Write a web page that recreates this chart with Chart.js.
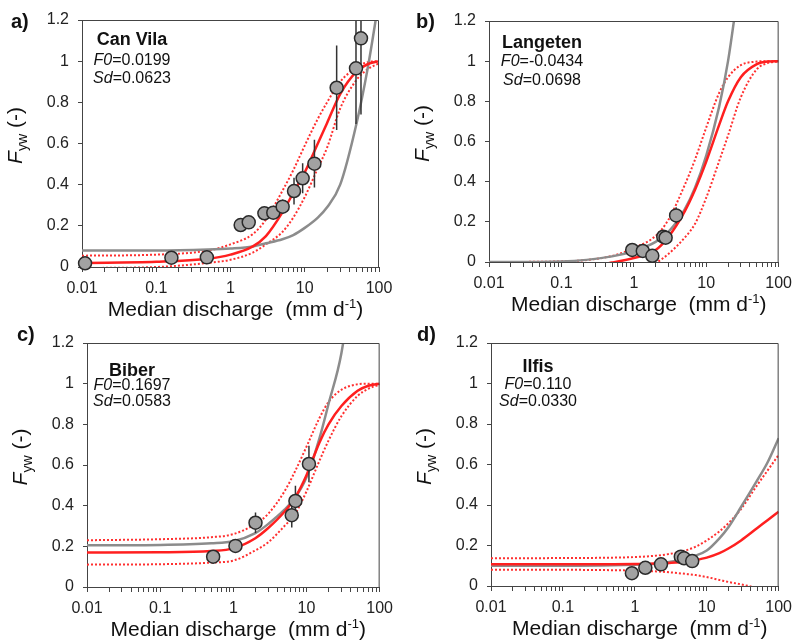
<!DOCTYPE html>
<html>
<head>
<meta charset="utf-8">
<script src="https://cdn.jsdelivr.net/npm/chart.js@4.4.0/dist/chart.umd.min.js"></script>
<style>
body{margin:0;background:#fff;}
canvas{position:absolute;}
</style>
</head>
<body>
<canvas id="pa" width="400" height="320" style="left:0;top:0"></canvas>
<canvas id="pb" width="399" height="320" style="left:400px;top:0"></canvas>
<canvas id="pc" width="400" height="321" style="left:0;top:320px"></canvas>
<canvas id="pd" width="399" height="321" style="left:400px;top:320px"></canvas>
<script>
const qGrid = [0.01, 0.1, 0.5, 1, 2, 3, 5, 7, 10, 15, 20, 30, 50, 70, 100];
// ticks along the log axis (labels only on decades)
const xTicks = [];
for (let e = -2; e <= 2; e++) {
  for (let s = 1; s <= 9; s++) {
    const v = parseFloat((s * Math.pow(10, e)).toPrecision(3));
    if (v <= 100) xTicks.push(v);
  }
}

// a) Can Vila
const canvilaQ   = [0.011, 0.16, 0.48, 1.37, 1.76, 2.86, 3.77, 5.04, 7.17, 9.37, 13.5, 26.9, 49, 57.2];
const canvilaF   = [0.018, 0.045, 0.047, 0.204, 0.217, 0.261, 0.264, 0.293, 0.369, 0.431, 0.502, 0.871, 0.965, 1.111];
const canvilaErr = [0, 0, 0, 0, 0, 0.03, 0.03, 0.035, 0.065, 0.073, 0.116, 0.205, 0.27, 0.37];
const canvilaFit  = [0.02, 0.025, 0.04, 0.06, 0.10, 0.15, 0.265, 0.36, 0.46, 0.60, 0.70, 0.84, 0.95, 0.985, 1.0];
const canvilaUp   = [0.055, 0.06, 0.08, 0.11, 0.16, 0.23, 0.37, 0.47, 0.59, 0.72, 0.80, 0.90, 0.97, 0.995, 1.0];
const canvilaLo   = [-0.005, 0.0, 0.02, 0.035, 0.07, 0.11, 0.17, 0.24, 0.34, 0.48, 0.58, 0.77, 0.91, 0.96, 0.99];
const canvilaGray = [0.08, 0.08, 0.085, 0.09, 0.10, 0.115, 0.135, 0.155, 0.19, 0.24, 0.29, 0.40, 0.70, 0.96, 1.3];

// b) Langeten
const langetenQ   = [0.95, 1.33, 1.80, 2.55, 2.75, 3.84];
const langetenF   = [0.06, 0.055, 0.031, 0.126, 0.121, 0.232];
const langetenErr = [0, 0, 0, 0.01, 0.01, 0.04];
const langetenFit  = [-0.043, -0.04, -0.003, 0.02, 0.06, 0.125, 0.25, 0.36, 0.50, 0.68, 0.80, 0.92, 0.985, 0.998, 1.0];
const langetenUp   = [0.0, 0.003, 0.03, 0.07, 0.13, 0.21, 0.38, 0.51, 0.67, 0.84, 0.92, 0.98, 0.998, 1.0, 1.0];
const langetenLo   = [-0.09, -0.09, -0.07, -0.04, -0.005, 0.04, 0.12, 0.19, 0.32, 0.50, 0.63, 0.82, 0.96, 0.99, 1.0];
const langetenGray = [0.0, 0.003, 0.028, 0.055, 0.10, 0.15, 0.26, 0.37, 0.53, 0.77, 1.0, 1.45];

// c) Biber
const biberQ   = [0.53, 1.07, 2.01, 6.29, 7.06, 10.8];
const biberF   = [0.149, 0.202, 0.316, 0.353, 0.423, 0.605];
const biberErr = [0, 0, 0.05, 0.06, 0.075, 0.09];
const biberFit  = [0.17, 0.171, 0.177, 0.19, 0.24, 0.29, 0.37, 0.44, 0.55, 0.71, 0.80, 0.89, 0.965, 0.99, 1.0];
const biberUp   = [0.23, 0.235, 0.245, 0.26, 0.31, 0.36, 0.47, 0.57, 0.69, 0.83, 0.91, 0.97, 0.997, 1.0, 1.0];
const biberLo   = [0.11, 0.112, 0.12, 0.13, 0.18, 0.22, 0.30, 0.36, 0.47, 0.62, 0.72, 0.84, 0.94, 0.975, 0.995];
const biberGray = [0.205, 0.207, 0.215, 0.225, 0.265, 0.31, 0.38, 0.44, 0.54, 0.73, 0.90, 1.15, 1.7];

// d) Ilfis
const ilfisQ   = [0.91, 1.40, 2.31, 4.36, 4.84, 6.28];
const ilfisF   = [0.063, 0.09, 0.107, 0.145, 0.137, 0.123];
const ilfisErr = [0, 0, 0.01, 0.01, 0.01, 0.03];
const ilfisFit  = [0.107, 0.107, 0.108, 0.109, 0.111, 0.114, 0.12, 0.128, 0.14, 0.162, 0.185, 0.225, 0.285, 0.325, 0.367];
const ilfisUp   = [0.137, 0.138, 0.14, 0.143, 0.15, 0.158, 0.175, 0.194, 0.225, 0.27, 0.31, 0.38, 0.497, 0.57, 0.647];
const ilfisLo   = [0.08, 0.08, 0.078, 0.076, 0.072, 0.068, 0.06, 0.054, 0.044, 0.03, 0.02, 0.008, -0.012, -0.035, -0.07];
const ilfisGray = [0.10, 0.10, 0.102, 0.105, 0.11, 0.118, 0.135, 0.15, 0.175, 0.235, 0.29, 0.39, 0.52, 0.61, 0.73];

const FONT = '"Liberation Sans", Arial, sans-serif';

const panels = [
  {id: 'pa', letter: 'a)', site: 'Can Vila', f0: '0.0199', sd: '0.0623',
   q: canvilaQ, f: canvilaF, err: canvilaErr, fit: canvilaFit, up: canvilaUp, lo: canvilaLo, gray: canvilaGray,
   box: {l: 82, r: 379, t: 20, b: 267}, letterPos: [11, 22], txt: {x: 132, y: [40, 61, 79]}},
  {id: 'pb', letter: 'b)', site: 'Langeten', f0: '-0.0434', sd: '0.0698',
   q: langetenQ, f: langetenF, err: langetenErr, fit: langetenFit, up: langetenUp, lo: langetenLo, gray: langetenGray,
   box: {l: 89, r: 381, t: 21, b: 262}, letterPos: [16, 22], txt: {x: 142, y: [43, 62, 81]}},
  {id: 'pc', letter: 'c)', site: 'Biber', f0: '0.1697', sd: '0.0583',
   q: biberQ, f: biberF, err: biberErr, fit: biberFit, up: biberUp, lo: biberLo, gray: biberGray,
   box: {l: 87, r: 380, t: 23, b: 267}, letterPos: [17, 15], txt: {x: 132, y: [51, 66, 82]}},
  {id: 'pd', letter: 'd)', site: 'Ilfis', f0: '0.110', sd: '0.0330',
   q: ilfisQ, f: ilfisF, err: ilfisErr, fit: ilfisFit, up: ilfisUp, lo: ilfisLo, gray: ilfisGray,
   box: {l: 91, r: 385, t: 23, b: 266}, letterPos: [17, 15], txt: {x: 138, y: [47, 65, 82]}}
];

// draws a run of [text, font, dy] pieces centred on x
function drawRuns(ctx, runs, x, y) {
  ctx.textAlign = 'left';
  let w = 0;
  runs.forEach(r => { ctx.font = r[1]; w += ctx.measureText(r[0]).width; });
  let cx = x - w / 2;
  runs.forEach(r => {
    ctx.font = r[1];
    ctx.fillText(r[0], cx, y + (r[2] || 0));
    cx += ctx.measureText(r[0]).width;
  });
}

const decor = {
  id: 'decor',
  afterDraw(chart) {
    const p = chart.config.options.plugins.decor.panel;
    const ctx = chart.ctx;
    const a = chart.chartArea;
    ctx.save();
    // frame top + right
    ctx.strokeStyle = '#444';
    ctx.lineWidth = 1;
    ctx.beginPath();
    ctx.moveTo(a.left, a.top + 0.5);
    ctx.lineTo(a.right - 0.5, a.top + 0.5);
    ctx.lineTo(a.right - 0.5, a.bottom);
    ctx.stroke();

    ctx.fillStyle = '#111';
    ctx.textAlign = 'left';
    ctx.textBaseline = 'middle';
    ctx.font = 'bold 20px ' + FONT;
    ctx.fillText(p.letter, p.letterPos[0], p.letterPos[1]);

    // site name and fit parameters
    drawRuns(ctx, [[p.site, 'bold 18px ' + FONT]], p.txt.x, p.txt.y[0]);
    drawRuns(ctx, [['F0', 'italic 16px ' + FONT], ['=' + p.f0, '16px ' + FONT]], p.txt.x, p.txt.y[1]);
    drawRuns(ctx, [['Sd', 'italic 16px ' + FONT], ['=' + p.sd, '16px ' + FONT]], p.txt.x, p.txt.y[2]);

    // x title
    ctx.textBaseline = 'alphabetic';
    drawRuns(ctx, [['Median discharge  (mm d', '21px ' + FONT], ['-1', '13px ' + FONT, -8], [')', '21px ' + FONT]],
      (a.left + a.right) / 2 + 5, a.bottom + 49);

    // y title, rotated
    ctx.translate(a.left - 60, (a.top + a.bottom) / 2 - 8);
    ctx.rotate(-Math.PI / 2);
    drawRuns(ctx, [['F', 'italic 21px ' + FONT], ['yw', '14px ' + FONT, 5], [' (-)', '21px ' + FONT]], 0, 0);
    ctx.restore();
  }
};

function makeChart(p) {
  const cv = document.getElementById(p.id);
  const W = cv.width, H = cv.height;
  const pts = p.q.map((x, i) => ({x: x, y: p.f[i]}));
  const bars = [];
  p.q.forEach((x, i) => {
    if (p.err[i] > 0) {
      bars.push({x: x, y: p.f[i] - p.err[i]}, {x: x, y: p.f[i] + p.err[i]}, {x: x, y: null});
    }
  });
  const curve = arr => arr.map((y, i) => ({x: qGrid[i], y: y}));
  const lineBase = {pointRadius: 0, cubicInterpolationMode: 'monotone', clip: 0, fill: false};

  new Chart(cv, {
    type: 'line',
    data: {datasets: [
      {data: pts, showLine: false, pointRadius: 6.5, pointBackgroundColor: '#a2a2a2',
       pointBorderColor: '#2a2a2a', pointBorderWidth: 1.5, order: 0, clip: false},
      {data: bars, borderColor: '#333', borderWidth: 1.5, pointRadius: 0, spanGaps: false, order: 1, clip: 0},
      Object.assign({data: curve(p.fit), borderColor: '#ff1f1f', borderWidth: 2.5, order: 2}, lineBase),
      Object.assign({data: curve(p.gray), borderColor: '#8c8c8c', borderWidth: 2.5, order: 3}, lineBase),
      Object.assign({data: curve(p.up), borderColor: '#ff3030', borderWidth: 2, borderDash: [2, 2], order: 4}, lineBase),
      Object.assign({data: curve(p.lo), borderColor: '#ff3030', borderWidth: 2, borderDash: [2, 2], order: 5}, lineBase)
    ]},
    options: {
      responsive: false,
      animation: false,
      events: [],
      layout: {padding: {left: 0, right: W - p.box.r, top: p.box.t, bottom: 0}},
      plugins: {legend: {display: false}, tooltip: {enabled: false}, decor: {panel: p}},
      scales: {
        x: {
          type: 'logarithmic', min: 0.01, max: 100,
          afterFit: s => { s.height = H - p.box.b; },
          afterBuildTicks: s => { s.ticks = xTicks.map(v => ({value: v})); },
          ticks: {
            autoSkip: false, maxRotation: 0, minRotation: 0, padding: 7,
            color: '#222', font: {family: FONT, size: 16},
            callback: v => {
              const l = Math.log10(v);
              if (Math.abs(l - Math.round(l)) > 1e-6) return '';
              return v < 1 ? String(+v.toFixed(2)) : String(Math.round(v));
            }
          },
          grid: {drawOnChartArea: false, tickLength: 5, color: '#444'},
          border: {color: '#444', width: 1}
        },
        y: {
          min: 0, max: 1.2,
          afterFit: s => { s.width = p.box.l; },
          ticks: {stepSize: 0.2, padding: 9, color: '#222', font: {family: FONT, size: 16},
                  callback: v => String(+v.toFixed(1))},
          grid: {drawOnChartArea: false, tickLength: 4, color: '#444'},
          border: {color: '#444', width: 1}
        }
      }
    },
    plugins: [decor]
  });
}

panels.forEach(makeChart);
</script>
</body>
</html>
